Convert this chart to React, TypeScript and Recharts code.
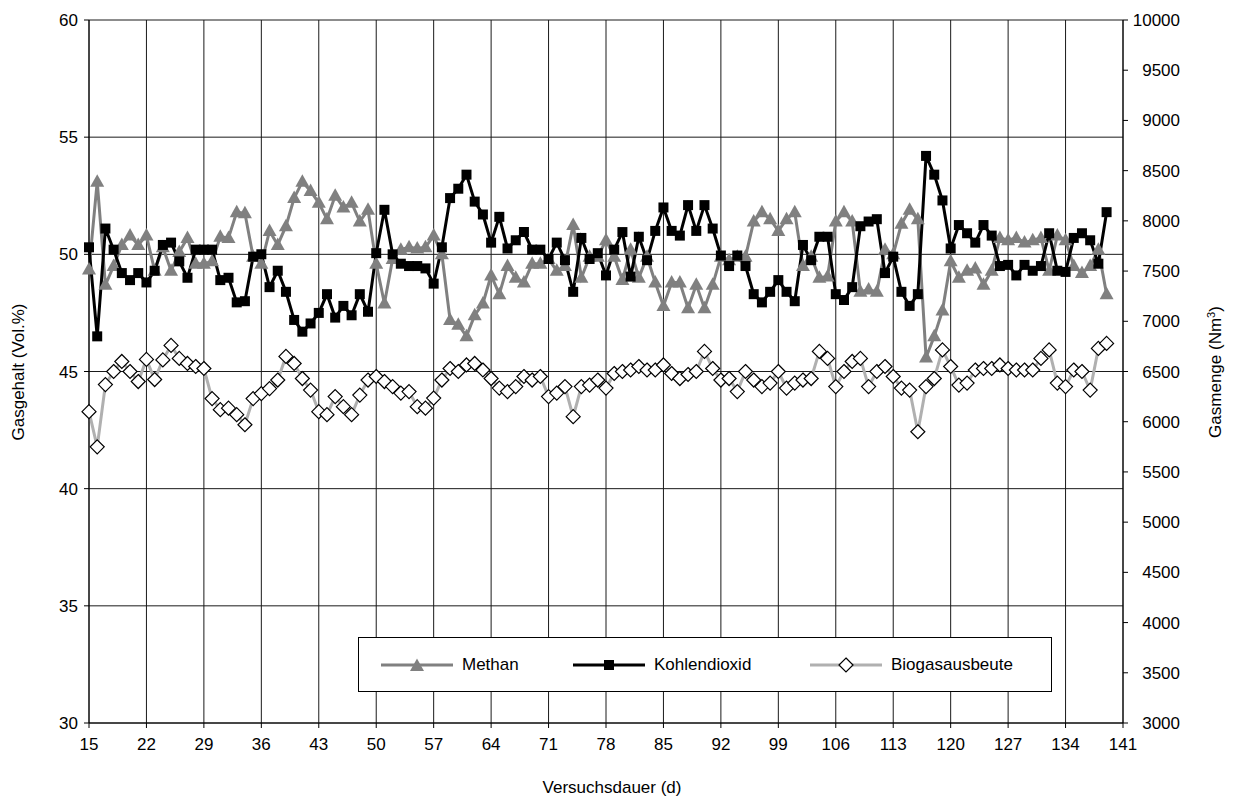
import React from 'react';
import { ComposedChart, Line, XAxis, YAxis, CartesianGrid, Legend } from 'recharts';

const days = [
  15, 16, 17, 18, 19, 20, 21, 22, 23, 24, 25, 26, 27, 28, 29, 30, 31, 32, 33, 34,
  35, 36, 37, 38, 39, 40, 41, 42, 43, 44, 45, 46, 47, 48, 49, 50, 51, 52, 53, 54,
  55, 56, 57, 58, 59, 60, 61, 62, 63, 64, 65, 66, 67, 68, 69, 70, 71, 72, 73, 74,
  75, 76, 77, 78, 79, 80, 81, 82, 83, 84, 85, 86, 87, 88, 89, 90, 91, 92, 93, 94,
  95, 96, 97, 98, 99, 100, 101, 102, 103, 104, 105, 106, 107, 108, 109, 110, 111, 112, 113, 114,
  115, 116, 117, 118, 119, 120, 121, 122, 123, 124, 125, 126, 127, 128, 129, 130, 131, 132, 133, 134,
  135, 136, 137, 138, 139,
];

const methan = [
  49.35, 53.1, 48.7, 49.5, 50.4, 50.8, 50.4, 50.8, 49.3, 50.3, 49.3, 50.1, 50.7, 49.6, 49.6, 49.7, 50.75, 50.7, 51.8, 51.75,
  49.9, 49.6, 51.0, 50.4, 51.2, 52.4, 53.1, 52.7, 52.2, 51.5, 52.5, 52.0, 52.2, 51.4, 51.9, 49.6, 47.9, 49.8, 50.2, 50.3,
  50.25, 50.3, 50.8, 50.0, 47.2, 47.0, 46.5, 47.4, 47.9, 49.1, 48.3, 49.5, 49.0, 48.8, 49.6, 49.6, 49.8, 49.3, 49.5, 51.25,
  49.0, 49.9, 49.9, 50.6, 49.9, 48.9, 50.2, 49.0, 49.9, 48.8, 47.8, 48.8, 48.8, 47.7, 48.7, 47.7, 48.7, 49.9, 49.75, 49.9,
  49.9, 51.4, 51.8, 51.5, 51.0, 51.5, 51.8, 49.5, 49.9, 49.0, 49.05, 51.4, 51.8, 51.4, 48.4, 48.5, 48.4, 50.2, 50.0, 51.3,
  51.9, 51.5, 45.6, 46.5, 47.6, 49.7, 49.0, 49.3, 49.4, 48.7, 49.3, 50.7, 50.6, 50.7, 50.5, 50.6, 50.7, 49.3, 50.8, 50.6,
  49.5, 49.2, 49.5, 50.2, 48.3,
];

const kohlendioxid = [
  50.3, 46.5, 51.1, 50.2, 49.2, 48.9, 49.2, 48.8, 49.3, 50.4, 50.5, 49.7, 49.0, 50.2, 50.2, 50.2, 48.9, 49.0, 47.95, 48.0,
  49.9, 50.0, 48.6, 49.3, 48.4, 47.2, 46.7, 47.05, 47.5, 48.3, 47.3, 47.8, 47.4, 48.3, 47.55, 50.05, 51.9, 50.0, 49.6, 49.5,
  49.5, 49.4, 48.75, 50.3, 52.4, 52.8, 53.4, 52.25, 51.7, 50.5, 51.6, 50.25, 50.6, 50.95, 50.2, 50.2, 49.8, 50.5, 49.75, 48.4,
  50.7, 49.8, 50.05, 49.1, 50.2, 50.95, 49.05, 50.75, 49.75, 51.0, 52.0, 51.0, 50.8, 52.1, 51.0, 52.1, 51.1, 49.95, 49.5, 49.95,
  49.5, 48.3, 47.95, 48.4, 48.9, 48.4, 48.0, 50.4, 49.75, 50.75, 50.75, 48.3, 48.05, 48.6, 51.2, 51.4, 51.5, 49.2, 49.9, 48.4,
  47.8, 48.3, 54.2, 53.4, 52.3, 50.25, 51.25, 50.9, 50.5, 51.25, 50.8, 49.5, 49.55, 49.1, 49.55, 49.3, 49.5, 50.9, 49.3, 49.25,
  50.7, 50.9, 50.6, 49.6, 51.8,
];

const biogasausbeute = [
  6100, 5750, 6370, 6500, 6600, 6500, 6400, 6620, 6420, 6615, 6760, 6630, 6580, 6550, 6530, 6230, 6120, 6135, 6070, 5970,
  6230, 6280, 6330, 6415, 6650, 6580, 6430, 6315, 6100, 6070, 6250, 6150, 6070, 6265, 6415, 6450, 6400, 6350, 6285, 6300,
  6150, 6135, 6235, 6415, 6530, 6500, 6565, 6580, 6515, 6430, 6335, 6300, 6350, 6450, 6415, 6450, 6250, 6285, 6350, 6050,
  6350, 6365, 6415, 6335, 6480, 6500, 6515, 6550, 6515, 6515, 6565, 6480, 6430, 6470, 6500, 6700, 6530, 6415, 6430, 6300,
  6500, 6415, 6350, 6385, 6500, 6335, 6385, 6415, 6430, 6700, 6630, 6350, 6500, 6600, 6630, 6350, 6500, 6550, 6450, 6335,
  6315, 5900, 6350, 6430, 6715, 6550, 6365, 6385, 6515, 6530, 6530, 6565, 6530, 6515, 6515, 6515, 6630, 6715, 6385, 6350,
  6515, 6500, 6315, 6730, 6780,
];

const xTicks = [15, 22, 29, 36, 43, 50, 57, 64, 71, 78, 85, 92, 99, 106, 113, 120, 127, 134, 141];
const leftTicks = [30, 35, 40, 45, 50, 55, 60];
const rightTicks = [3000, 3500, 4000, 4500, 5000, 5500, 6000, 6500, 7000, 7500, 8000, 8500, 9000, 9500, 10000];

const data = days.map((d, i) => ({
  day: d,
  methan: methan[i],
  co2: kohlendioxid[i],
  biogas: biogasausbeute[i],
}));

const FONT = '"Liberation Sans", Arial, sans-serif';
const FS = 17;
const C_METHAN = '#808080';
const C_CO2 = '#000000';
const C_BIOGAS = '#b0b0b0';

const triPath = (cx: number, cy: number) => `M${cx},${cy - 7.5} L${cx + 7},${cy + 5} L${cx - 7},${cy + 5} Z`;
const sqPath = (cx: number, cy: number) => `M${cx - 5},${cy - 5} h10 v10 h-10 Z`;
const diaPath = (cx: number, cy: number) => `M${cx},${cy - 7} L${cx + 7},${cy} L${cx},${cy + 7} L${cx - 7},${cy} Z`;

const TriDot = (p: any) => <path key={`m-${p.index}`} d={triPath(p.cx, p.cy)} fill={C_METHAN} stroke="none" />;
const SqDot = (p: any) => <path key={`c-${p.index}`} d={sqPath(p.cx, p.cy)} fill={C_CO2} stroke="none" />;
const DiaDot = (p: any) => (
  <path key={`b-${p.index}`} d={diaPath(p.cx, p.cy)} fill="#ffffff" stroke="#000000" strokeWidth={1.2} />
);

const RightTick = (p: any) => (
  <text x={p.x + 47} y={p.y} dy="0.355em" textAnchor="end" fontSize={FS} fontFamily={FONT} fill="#000">
    {p.payload.value}
  </text>
);

const LegendItem = ({ color, shape, label }: { color: string; shape: string; label: string }) => (
  <div style={{ display: 'flex', alignItems: 'center' }}>
    <svg width={72} height={20} style={{ display: 'block' }}>
      <line x1={0} y1={10} x2={72} y2={10} stroke={color} strokeWidth={3} />
      {shape === 'tri' && <path d={triPath(36, 11)} fill={C_METHAN} />}
      {shape === 'sq' && <path d={sqPath(36, 10)} fill={C_CO2} />}
      {shape === 'dia' && <path d={diaPath(36, 10)} fill="#fff" stroke="#000" strokeWidth={1.2} />}
    </svg>
    <span style={{ marginLeft: 9, fontFamily: FONT, fontSize: FS, color: '#000' }}>{label}</span>
  </div>
);

const LegendBox = () => (
  <div
    style={{
      width: 694,
      height: 55,
      boxSizing: 'border-box',
      border: '1px solid #000',
      background: '#fff',
      display: 'flex',
      alignItems: 'center',
      paddingLeft: 22,
      gap: 0,
    }}
  >
    <div style={{ width: 192 }}>
      <LegendItem color={C_METHAN} shape="tri" label="Methan" />
    </div>
    <div style={{ width: 237 }}>
      <LegendItem color={C_CO2} shape="sq" label="Kohlendioxid" />
    </div>
    <div>
      <LegendItem color={C_BIOGAS} shape="dia" label="Biogasausbeute" />
    </div>
  </div>
);

export default function App() {
  return (
    <ComposedChart width={1225} height={788} data={data} margin={{ top: 12, right: 0, bottom: 0, left: 0 }}>
      <CartesianGrid stroke="#1a1a1a" strokeWidth={1} yAxisId="left" />
      <XAxis
        type="number"
        dataKey="day"
        domain={[15, 141]}
        ticks={xTicks}
        interval={0}
        height={73}
        tickSize={5}
        tickMargin={10}
        stroke="#000"
        tick={{ fontSize: FS, fontFamily: FONT, fill: '#000' }}
        label={{
          content: () => (
            <text x={604} y={785} textAnchor="middle" fontSize={FS} fontFamily={FONT} fill="#000">
              Versuchsdauer (d)
            </text>
          ),
        }}
      />
      <YAxis
        yAxisId="left"
        domain={[30, 60]}
        ticks={leftTicks}
        interval={0}
        width={81}
        tickSize={5}
        tickMargin={6}
        stroke="#000"
        tick={{ fontSize: FS, fontFamily: FONT, fill: '#000' }}
        label={{
          content: () => (
            <text transform="translate(16,364) rotate(-90)" textAnchor="middle" fontSize={FS} fontFamily={FONT} fill="#000">
              Gasgehalt (Vol.%)
            </text>
          ),
        }}
      />
      <YAxis
        yAxisId="right"
        orientation="right"
        domain={[3000, 10000]}
        ticks={rightTicks}
        interval={0}
        width={110}
        tickSize={5}
        tickMargin={5}
        stroke="#000"
        tick={<RightTick />}
        label={{
          content: () => (
            <text transform="translate(1213,364) rotate(-90)" textAnchor="middle" fontSize={FS} fontFamily={FONT} fill="#000">
              Gasmenge (Nm<tspan dy={-6} fontSize={11}>3</tspan><tspan dy={6}>)</tspan>
            </text>
          ),
        }}
      />
      <Legend
        layout="horizontal"
        verticalAlign="middle"
        align="center"
        wrapperStyle={{ left: 350, top: 629, width: 694, height: 55 }}
        content={() => <LegendBox />}
      />
      <Line
        yAxisId="left"
        dataKey="methan"
        name="Methan"
        stroke={C_METHAN}
        strokeWidth={3}
        dot={TriDot}
        activeDot={false}
        isAnimationActive={false}
      />
      <Line
        yAxisId="left"
        dataKey="co2"
        name="Kohlendioxid"
        stroke={C_CO2}
        strokeWidth={3}
        dot={SqDot}
        activeDot={false}
        isAnimationActive={false}
      />
      <Line
        yAxisId="right"
        dataKey="biogas"
        name="Biogasausbeute"
        stroke={C_BIOGAS}
        strokeWidth={3}
        dot={DiaDot}
        activeDot={false}
        isAnimationActive={false}
      />
    </ComposedChart>
  );
}
